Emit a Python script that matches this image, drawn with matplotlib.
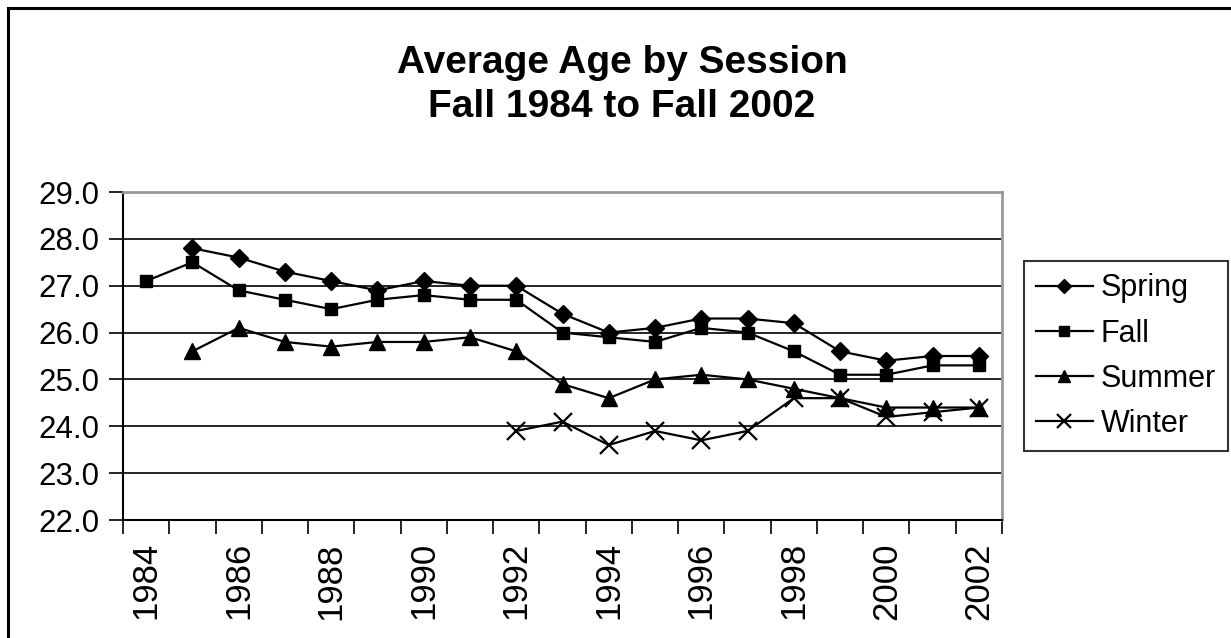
import matplotlib
matplotlib.use("Agg")
import matplotlib.pyplot as plt
from matplotlib.patches import Rectangle
import numpy as np

plt.rcParams['font.family'] = ['Liberation Sans', 'DejaVu Sans']

years = list(range(1984, 2003))
spring = [np.nan, 27.8, 27.6, 27.3, 27.1, 26.9, 27.1, 27.0, 27.0, 26.4, 26.0,
          26.1, 26.3, 26.3, 26.2, 25.6, 25.4, 25.5, 25.5]
fall = [27.1, 27.5, 26.9, 26.7, 26.5, 26.7, 26.8, 26.7, 26.7, 26.0, 25.9,
        25.8, 26.1, 26.0, 25.6, 25.1, 25.1, 25.3, 25.3]
summer = [np.nan, 25.6, 26.1, 25.8, 25.7, 25.8, 25.8, 25.9, 25.6, 24.9, 24.6,
          25.0, 25.1, 25.0, 24.8, 24.6, 24.4, 24.4, 24.4]
winter = [np.nan] * 8 + [23.9, 24.1, 23.6, 23.9, 23.7, 23.9, 24.6, 24.6,
                         24.2, 24.3, 24.4]
series_names = ["Spring", "Fall", "Summer", "Winter"]
y_ticks = [22.0, 23.0, 24.0, 25.0, 26.0, 27.0, 28.0, 29.0]

W, H = 1231, 638
fig = plt.figure(figsize=(W / 100, H / 100), dpi=100)
fig.patch.set_facecolor('white')

# outer border (left and top visible, extends past right/bottom)
fig.patches.append(Rectangle((8 / W, -0.1), 2, 1.1 - 8 / H,
                             transform=fig.transFigure, fill=False,
                             edgecolor='black', linewidth=2.2))

ax_l, ax_r, ax_t, ax_b = 123, 1002, 192, 520
ax = fig.add_axes([ax_l / W, 1 - ax_b / H, (ax_r - ax_l) / W, (ax_b - ax_t) / H])

x = np.arange(len(years)) + 0.5
lw = 1.6
ax.plot(x, spring, color='black', lw=lw, marker='D', ms=9, label=series_names[0])
ax.plot(x, fall, color='black', lw=lw, marker='s', ms=9, label=series_names[1])
ax.plot(x, summer, color='black', lw=lw, marker='^', ms=11, label=series_names[2])
ax.plot(x, winter, color='black', lw=lw, marker='x', ms=13, mew=1.6, label=series_names[3])

ax.set_xlim(0, len(years))
ax.set_ylim(22.0, 29.0)
ax.set_yticks(y_ticks)
ax.set_yticklabels([f"{v:.1f}" for v in y_ticks], fontsize=22.5)
for v in y_ticks[1:-1]:
    ax.axhline(v, color='black', lw=1.2, zorder=0)

ax.set_xticks(np.arange(len(years) + 1))
ax.set_xticklabels([])
ax.set_xticks(x[::2], minor=True)
ax.set_xticklabels([str(y) for y in years[::2]], minor=True, rotation=90,
                   fontsize=25)
ax.tick_params(axis='x', which='minor', length=0, pad=16)
ax.tick_params(axis='x', which='major', length=10, width=1.2, direction='out')
ax.tick_params(axis='y', length=10, width=1.2, direction='out', pad=7)

for s in ['top', 'right']:
    ax.spines[s].set_color('#999999')
    ax.spines[s].set_linewidth(2)
for s in ['left', 'bottom']:
    ax.spines[s].set_color('black')
    ax.spines[s].set_linewidth(1.5)

fig.text(622 / W, 1 - 73 / H, "Average Age by Session", ha='center', va='baseline',
         fontsize=28, fontweight='bold')
fig.text(622 / W, 1 - 117 / H, "Fall 1984 to Fall 2002", ha='center', va='baseline',
         fontsize=28, fontweight='bold')

handles, labels = ax.get_legend_handles_labels()
leg = fig.legend(handles, labels, loc='upper left',
                 bbox_to_anchor=(1024 / W, 1 - 261 / H), borderaxespad=0,
                 fontsize=22, frameon=True, fancybox=False, edgecolor='black',
                 handlelength=1.85, handletextpad=0.25, labelspacing=0.5,
                 borderpad=0.4, markerscale=0.75)
leg.get_frame().set_linewidth(1.5)

fig.savefig("out.png", dpi=100, facecolor='white')
